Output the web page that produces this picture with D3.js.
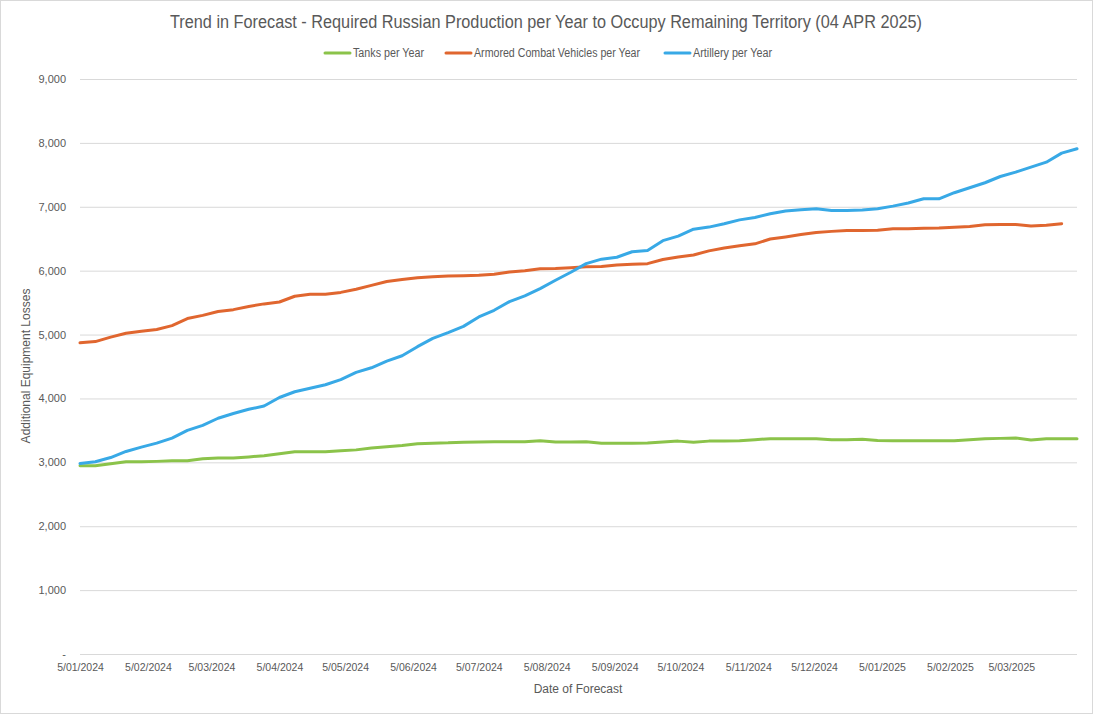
<!DOCTYPE html>
<html>
<head>
<meta charset="utf-8">
<title>Trend in Forecast</title>
<script src="https://d3js.org/d3.v7.min.js"></script>
<style>
  body { margin: 0; background: #fff; }
  text { fill: #595959; }
</style>
</head>
<body>
<svg width="1093" height="714" id="chart"></svg>
<script>
// forecast dates (weekly, d/mm/yyyy style on axis)
const dates = [
  '2024-01-05','2024-01-12','2024-01-19','2024-01-26','2024-02-02','2024-02-09','2024-02-16','2024-02-23',
  '2024-03-01','2024-03-08','2024-03-15','2024-03-22','2024-03-29','2024-04-05','2024-04-12','2024-04-19',
  '2024-04-26','2024-05-03','2024-05-10','2024-05-17','2024-05-24','2024-05-31','2024-06-07','2024-06-14',
  '2024-06-21','2024-06-28','2024-07-05','2024-07-12','2024-07-19','2024-07-26','2024-08-02','2024-08-09',
  '2024-08-16','2024-08-23','2024-08-30','2024-09-06','2024-09-13','2024-09-20','2024-09-27','2024-10-04',
  '2024-10-11','2024-10-18','2024-10-25','2024-11-01','2024-11-08','2024-11-15','2024-11-22','2024-11-29',
  '2024-12-06','2024-12-13','2024-12-20','2024-12-27','2025-01-03','2025-01-10','2025-01-17','2025-01-24',
  '2025-01-31','2025-02-07','2025-02-14','2025-02-21','2025-02-28','2025-03-07','2025-03-14','2025-03-21',
  '2025-03-28','2025-04-04'
];

const tanks = [
  2946, 2948, 2978, 3008, 3010, 3015, 3025, 3025, 3055, 3066, 3066, 3085, 3103, 3134, 3166, 3166,
  3166, 3180, 3195, 3225, 3245, 3262, 3290, 3300, 3305, 3316, 3318, 3322, 3322, 3322, 3338, 3320,
  3318, 3322, 3300, 3298, 3298, 3301, 3318, 3332, 3316, 3332, 3334, 3337, 3355, 3370, 3370, 3370,
  3370, 3354, 3354, 3360, 3340, 3338, 3338, 3338, 3338, 3338, 3355, 3370, 3375, 3380, 3350, 3370,
  3370, 3370
];

// last week not yet reported for ACVs
const acv = [
  4870, 4890, 4960, 5020, 5050, 5080, 5140, 5250, 5300, 5360, 5390, 5440, 5480, 5510, 5600, 5630,
  5630, 5660, 5710, 5770, 5830, 5860, 5890, 5905, 5915, 5922, 5930, 5945, 5980, 6000, 6030, 6033,
  6045, 6060, 6065, 6090, 6100, 6110, 6175, 6215, 6245, 6310, 6355, 6390, 6420, 6495, 6528, 6565,
  6598, 6615, 6630, 6630, 6632, 6655, 6658, 6662, 6668, 6680, 6692, 6720, 6722, 6723, 6700, 6712,
  6735
];

const artillery = [
  2980, 3010, 3075, 3170, 3238, 3300, 3380, 3500, 3578, 3690, 3765, 3830, 3882, 4015, 4105, 4160,
  4215, 4295, 4408, 4480, 4585, 4668, 4810, 4940, 5030, 5128, 5275, 5380, 5515, 5605, 5720, 5850,
  5975, 6110, 6180, 6210, 6296, 6315, 6470, 6540, 6650, 6682, 6735, 6795, 6833, 6890, 6935, 6953,
  6970, 6942, 6942, 6950, 6968, 7010, 7060, 7125, 7125, 7220, 7297, 7376, 7474, 7542, 7620, 7698,
  7840, 7908
];

const xTicks = [
  '2024-01-05','2024-02-05','2024-03-05','2024-04-05','2024-05-05','2024-06-05','2024-07-05','2024-08-05',
  '2024-09-05','2024-10-05','2024-11-05','2024-12-05','2025-01-05','2025-02-05','2025-03-05'
];
const yTicks = [0, 1000, 2000, 3000, 4000, 5000, 6000, 7000, 8000, 9000];

const seriesNames = ['Tanks per Year', 'Armored Combat Vehicles per Year', 'Artillery per Year'];
const seriesColors = ['#8BC34A', '#E0662F', '#38A9E6'];
const seriesValues = [tanks, acv, artillery];

const svg = d3.select('#chart');
const width = +svg.attr('width');
const height = +svg.attr('height');
const margin = {top: 79, right: 16, bottom: 60, left: 80};
const innerwidth = width - margin.left - margin.right;
const innerheight = height - margin.top - margin.bottom;

const parse = d3.timeParse('%Y-%m-%d');

// chart border
svg.append('rect')
  .attr('x', 0.5).attr('y', 0.5)
  .attr('width', width - 1).attr('height', height - 1)
  .attr('fill', '#fff').attr('stroke', '#d9d9d9');

const xscale = d3.scaleTime()
  .domain(d3.extent(dates, parse))
  .range([0, innerwidth]);

const yscale = d3.scaleLinear()
  .domain([0, 9000])
  .range([innerheight, 0]);

const g = svg.append('g')
  .attr('transform', `translate(${margin.left},${margin.top})`);

// gridlines + y labels
const yaxis = d3.axisLeft(yscale)
  .tickValues(yTicks)
  .tickSize(-innerwidth)
  .tickPadding(14)
  .tickFormat(d => d === 0 ? '-' : d3.format(',')(d));

g.append('g').call(yaxis)
  .call(a => a.select('.domain').remove())
  .call(a => a.selectAll('.tick line').attr('stroke', '#d9d9d9'))
  .call(a => a.selectAll('.tick text')
    .attr('font-family', 'Liberation Sans, Arial, sans-serif')
    .attr('font-size', 11).attr('fill', '#595959'));

// x labels
const xaxis = d3.axisBottom(xscale)
  .tickValues(xTicks.map(parse))
  .tickSize(0)
  .tickPadding(10)
  .tickFormat(d3.timeFormat('%-d/%m/%Y'));

g.append('g').call(xaxis)
  .attr('transform', `translate(0,${innerheight})`)
  .call(a => a.select('.domain').remove())
  .call(a => a.selectAll('.tick text')
    .attr('font-family', 'Liberation Sans, Arial, sans-serif')
    .attr('font-size', 10.5).attr('fill', '#595959'));

// the lines
const line = d3.line()
  .x((d, i) => xscale(parse(dates[i])))
  .y(d => yscale(d));

seriesValues.forEach((vals, i) => {
  g.append('path')
    .datum(vals)
    .attr('d', line)
    .attr('fill', 'none')
    .attr('stroke', seriesColors[i])
    .attr('stroke-width', 3)
    .attr('stroke-linejoin', 'round')
    .attr('stroke-linecap', 'round');
});

// title (narrow face in the original, so squeeze to its width)
svg.append('text')
  .attr('x', 170).attr('y', 28)
  .attr('font-family', 'Liberation Sans, Arial, sans-serif')
  .attr('font-size', 18)
  .attr('fill', '#595959')
  .attr('textLength', 752)
  .attr('lengthAdjust', 'spacingAndGlyphs')
  .text('Trend in Forecast - Required Russian Production per Year to Occupy Remaining Territory (04 APR 2025)');

// legend
const legendX = [325, 446, 665];
const legendW = [71, 166, 79];
const legend = svg.append('g');
seriesNames.forEach((name, i) => {
  legend.append('line')
    .attr('x1', legendX[i]).attr('x2', legendX[i] + 25)
    .attr('y1', 53).attr('y2', 53)
    .attr('stroke', seriesColors[i]).attr('stroke-width', 3)
    .attr('stroke-linecap', 'round');
  legend.append('text')
    .attr('x', legendX[i] + 28).attr('y', 57)
    .attr('font-family', 'Liberation Sans, Arial, sans-serif')
    .attr('font-size', 12)
    .attr('fill', '#595959')
    .attr('textLength', legendW[i])
    .attr('lengthAdjust', 'spacingAndGlyphs')
    .text(name);
});

// axis titles
svg.append('text')
  .attr('transform', 'translate(30,366) rotate(-90)')
  .attr('text-anchor', 'middle')
  .attr('font-family', 'Liberation Sans, Arial, sans-serif')
  .attr('font-size', 12)
  .attr('fill', '#595959')
  .text('Additional Equipment Losses');

svg.append('text')
  .attr('x', 578).attr('y', 693)
  .attr('text-anchor', 'middle')
  .attr('font-family', 'Liberation Sans, Arial, sans-serif')
  .attr('font-size', 12)
  .attr('fill', '#595959')
  .text('Date of Forecast');
</script>
</body>
</html>
